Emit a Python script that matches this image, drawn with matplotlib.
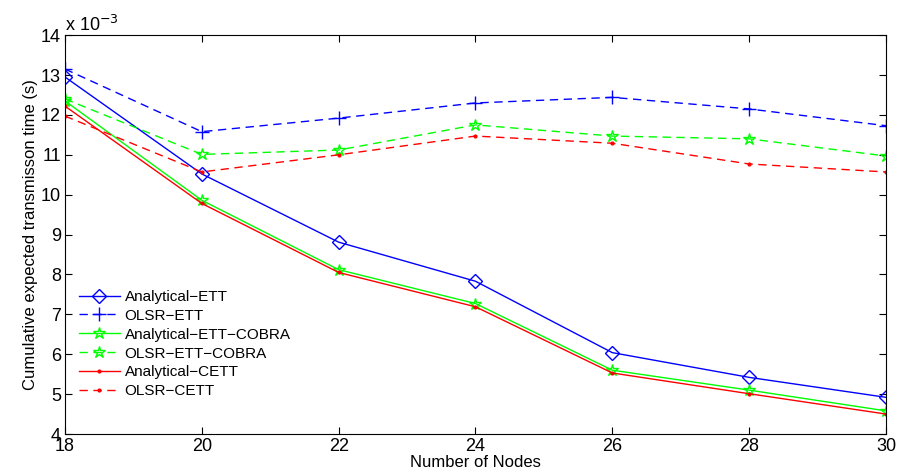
import matplotlib
matplotlib.use('Agg')
import matplotlib.pyplot as plt
from matplotlib.ticker import FuncFormatter

plt.rcParams['font.family'] = ['Liberation Sans', 'DejaVu Sans']

nodes = [18, 20, 22, 24, 26, 28, 30]

# values in units of 1e-3 s
analytical_ett = [12.95, 10.52, 8.81, 7.83, 6.04, 5.42, 4.92]
olsr_ett = [13.15, 11.58, 11.92, 12.30, 12.44, 12.15, 11.73]
analytical_ett_cobra = [12.35, 9.86, 8.12, 7.27, 5.60, 5.10, 4.58]
olsr_ett_cobra = [12.40, 11.01, 11.12, 11.75, 11.47, 11.40, 10.97]
analytical_cett = [12.22, 9.78, 8.05, 7.19, 5.53, 5.01, 4.50]
olsr_cett = [11.97, 10.57, 11.00, 11.47, 11.29, 10.77, 10.57]

def sec(v):
    return [x * 1e-3 for x in v]

fig = plt.figure(figsize=(8.98, 4.75), dpi=100)
ax = fig.add_axes([0.0724, 0.0863, 0.9142, 0.8397])

dash = (0, (6, 4))
ax.plot(nodes, sec(analytical_ett), '-', color='blue', marker='D', mfc='none',
        ms=7, mew=1, lw=1, label='Analytical\u2212ETT')
ax.plot(nodes, sec(olsr_ett), color='blue', ls=dash, marker='+', ms=10,
        mew=1, lw=1, label='OLSR\u2212ETT')
ax.plot(nodes, sec(analytical_ett_cobra), '-', color='#00ff00', marker='*', mfc='none',
        ms=9, mew=1, lw=1, label='Analytical\u2212ETT\u2212COBRA')
ax.plot(nodes, sec(olsr_ett_cobra), color='#00ff00', ls=dash, marker='*', mfc='none',
        ms=9, mew=1, lw=1, label='OLSR\u2212ETT\u2212COBRA')
ax.plot(nodes, sec(analytical_cett), '-', color='red', marker='.', ms=4,
        lw=1, label='Analytical\u2212CETT')
ax.plot(nodes, sec(olsr_cett), color='red', ls=dash, marker='.', ms=4,
        lw=1, label='OLSR\u2212CETT')

ax.set_xlim(18, 30)
ax.set_ylim(4e-3, 14e-3)
ax.set_xticks(range(18, 31, 2))
ax.set_yticks([i * 1e-3 for i in range(4, 15)])
ax.yaxis.set_major_formatter(FuncFormatter(lambda v, p: '%d' % round(v * 1e3)))
ax.tick_params(direction='in', top=True, right=True, labelsize=13, length=5)
ax.tick_params(axis='x', pad=3)
ax.tick_params(axis='y', pad=3)
ax.text(0.0, 1.0, 'x 10$^{-3}$', transform=ax.transAxes, fontsize=13,
        ha='left', va='bottom')

ax.set_xlabel('Number of Nodes', fontsize=12, labelpad=0)
ax.set_ylabel('Cumulative expected transmisson time (s)', fontsize=12, labelpad=2)

ax.legend(loc='lower left', bbox_to_anchor=(0.0, 0.055), frameon=False,
          fontsize=11, handlelength=2.7, handletextpad=0.3, labelspacing=0.32)

fig.savefig('out.png', dpi=100)
